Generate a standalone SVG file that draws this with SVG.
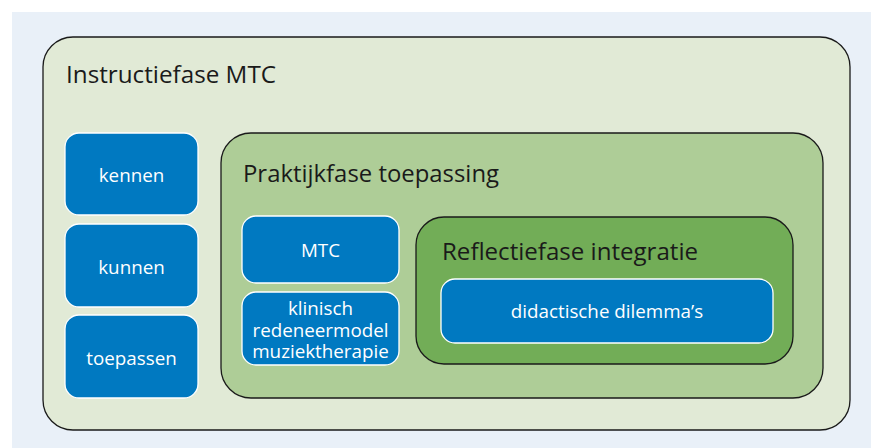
<svg xmlns="http://www.w3.org/2000/svg" width="871" height="448" viewBox="0 0 871 448">
<style>
.frame{stroke:#1a1a1a;stroke-width:1.3}
.blue{fill:#0079c1;stroke:#ffffff;stroke-width:1.3}
.bt{font-family:"Open Sans","Noto Sans",sans-serif;font-size:18.8px;fill:#ffffff;text-anchor:middle}
.ht{font-family:"Open Sans","Noto Sans",sans-serif;font-size:24px;fill:#1a1a1a}
</style>
<rect x="12" y="12" width="859" height="436" fill="#e9f0f8"/>
<g id="instructiefase">
<rect class="frame" x="43" y="37" width="807" height="393" rx="30" fill="#e1ead6"/>
<text class="ht" x="66" y="83" textLength="210" lengthAdjust="spacingAndGlyphs">Instructiefase MTC</text>
</g>
<g id="kennen">
<rect class="blue" x="65" y="133" width="133" height="82" rx="14"/>
<text class="bt" x="131.5" y="182">kennen</text>
</g>
<g id="kunnen">
<rect class="blue" x="65" y="224" width="133" height="83" rx="14"/>
<text class="bt" x="131.5" y="274">kunnen</text>
</g>
<g id="toepassen">
<rect class="blue" x="65" y="315" width="133" height="83" rx="14"/>
<text class="bt" x="131.5" y="365">toepassen</text>
</g>
<g id="praktijkfase">
<rect class="frame" x="221" y="133" width="602" height="265" rx="30" fill="#aecd97"/>
<text class="ht" x="243" y="182" textLength="256" lengthAdjust="spacingAndGlyphs">Praktijkfase toepassing</text>
</g>
<g id="mtc">
<rect class="blue" x="242" y="216" width="157" height="67" rx="14"/>
<text class="bt" x="320.5" y="257">MTC</text>
</g>
<g id="klinisch">
<rect class="blue" x="242" y="292" width="157" height="73" rx="14"/>
<text class="bt" x="320.5" y="315">klinisch</text>
<text class="bt" x="320.5" y="337">redeneermodel</text>
<text class="bt" x="320.5" y="358">muziektherapie</text>
</g>
<g id="reflectiefase">
<rect class="frame" x="416" y="217" width="377" height="147" rx="28" fill="#72ad57"/>
<text class="ht" x="442" y="260" textLength="256" lengthAdjust="spacingAndGlyphs">Reflectiefase integratie</text>
</g>
<g id="dilemmas">
<rect class="blue" x="441" y="279" width="332" height="64" rx="14"/>
<text class="bt" x="607" y="318">didactische dilemma’s</text>
</g>
<g id="connectors"></g>
</svg>
